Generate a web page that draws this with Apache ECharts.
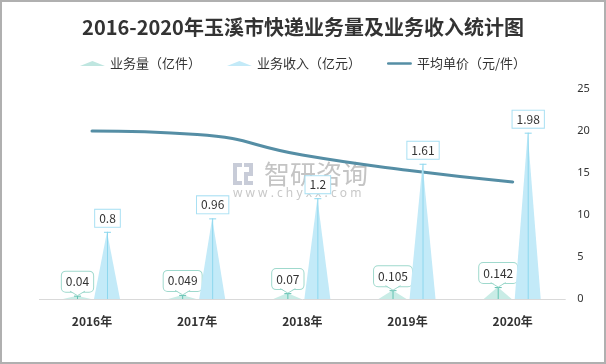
<!DOCTYPE html>
<html>
<head>
<meta charset="utf-8">
<script src="https://cdn.jsdelivr.net/npm/echarts@6/dist/echarts.min.js"></script>
<style>
html,body{margin:0;padding:0;background:#fff;}
#c{width:606px;height:364px;}
</style>
</head>
<body>
<div id="c"></div>
<script>
const years = ['2016年', '2017年', '2018年', '2019年', '2020年'];
const volume = [0.04, 0.049, 0.07, 0.105, 0.142];      // 业务量（亿件）
const revenue = [0.8, 0.96, 1.2, 1.61, 1.98];           // 业务收入（亿元）
const unitPrice = [20, 19.59, 17.14, 15.33, 13.94];     // 平均单价（元/件）
const rightTicks = [0, 5, 10, 15, 20, 25];

const FONT = '"Noto Sans CJK SC", "Noto Sans", sans-serif';
const VOL = { fill: '#c9ece6', line: '#62c2b2', border: '#9fd9cd', off: -15, w: 28 };
const REV = { fill: '#c3eaf8', line: '#8dd7ee', border: '#a9e0f3', off: 15, w: 26 };

function makeRender(cfg, isVol) {
  return function (params, api) {
    const idx = api.value(0);
    const v = api.value(1);
    const base = api.coord([idx, 0]);
    const top = api.coord([idx, v]);
    const cx = base[0] + cfg.off;
    const by = base[1];
    const ty = top[1];
    const children = [];
    children.push({
      type: 'polygon',
      shape: { points: [[cx - cfg.w / 2, by], [cx, ty], [cx + cfg.w / 2, by]] },
      style: { fill: cfg.fill }
    });
    children.push({
      type: 'line',
      shape: { x1: cx + 0.5, y1: ty, x2: cx + 0.5, y2: by },
      style: { stroke: cfg.line, lineWidth: 1 }
    });
    children.push({
      type: 'line',
      shape: { x1: cx - 3, y1: ty + 0.5, x2: cx + 4, y2: ty + 0.5 },
      style: { stroke: cfg.line, lineWidth: 1 }
    });
    const label = String(isVol ? volume[idx] : revenue[idx]);
    if (isVol) {
      const bb = ty - 4;
      children.push({
        type: 'text',
        x: cx + 0.5, y: bb,
        style: {
          text: label, align: 'center', verticalAlign: 'bottom',
          fontSize: 12, fontFamily: FONT, fill: '#333', lineHeight: 14,
          backgroundColor: '#fff', borderColor: cfg.border, borderWidth: 1,
          borderRadius: 4, padding: [3, 4]
        }
      });
      children.push({
        type: 'polygon',
        shape: { points: [[cx - 7, bb - 1.2], [cx + 0.5, ty], [cx + 8, bb - 1.2]] },
        style: { fill: '#fff' }
      });
      children.push({
        type: 'polyline',
        shape: { points: [[cx - 7, bb - 0.5], [cx + 0.5, ty], [cx + 8, bb - 0.5]] },
        style: { stroke: cfg.border, lineWidth: 1, fill: null }
      });
    } else {
      children.push({
        type: 'text',
        x: cx + 0.5, y: ty - 5,
        style: {
          text: label, align: 'center', verticalAlign: 'bottom',
          fontSize: 12, fontFamily: FONT, fill: '#333', lineHeight: 13,
          backgroundColor: '#fff', borderColor: cfg.border, borderWidth: 1,
          padding: [2, 4]
        }
      });
    }
    return { type: 'group', children: children };
  };
}

const chart = echarts.init(document.getElementById('c'), null, { renderer: 'canvas' });
chart.setOption({
  backgroundColor: '#fff',
  animation: false,
  title: {
    text: '2016-2020年玉溪市快递业务量及业务收入统计图',
    left: 'center', top: 12,
    textStyle: { fontSize: 20, fontWeight: 'bold', color: '#333', fontFamily: FONT }
  },
  legend: {
    top: 52, left: 'center',
    itemWidth: 25, itemHeight: 7, itemGap: 26,
    textStyle: { fontSize: 13, color: '#333', fontFamily: FONT },
    data: [
      { name: '业务量（亿件）', icon: 'path://M0,5 L12,0 L24,5 Z' },
      { name: '业务收入（亿元）', icon: 'path://M0,5 L12,0 L24,5 Z' },
      { name: '平均单价（元/件）', icon: 'path://M1.5,0 H26.5 A1.5,1.5 0 0 1 26.5,3 H1.5 A1.5,1.5 0 0 1 1.5,0 Z' }
    ]
  },
  grid: { left: 39.4, right: 40.7, top: 89, bottom: 65 },
  xAxis: {
    type: 'category', data: years,
    axisLine: { lineStyle: { color: '#d9d9d9' } },
    axisTick: { show: false },
    axisLabel: { fontSize: 12, fontWeight: 'bold', color: '#333', margin: 16, fontFamily: FONT }
  },
  yAxis: [
    { type: 'value', min: 0, max: 2.5, show: false },
    {
      type: 'value', position: 'right', min: rightTicks[0], max: rightTicks[rightTicks.length - 1], interval: 5,
      axisLine: { show: false }, axisTick: { show: false }, splitLine: { show: false },
      axisLabel: { fontSize: 11, color: '#333', margin: 12, fontFamily: '"Noto Sans", sans-serif' }
    }
  ],
  graphic: [
    { type: 'rect', shape: { x: 1, y: 1, width: 604, height: 362 }, style: { fill: 'none', stroke: '#b0b0b0', lineWidth: 2 }, z: 100 },
    { type: 'group', z: -1, children: [
      { type: 'rect', shape: { x: 233, y: 163, width: 9, height: 4 }, style: { fill: '#c8ccd8' } },
      { type: 'rect', shape: { x: 233, y: 163, width: 4, height: 22 }, style: { fill: '#c8ccd8' } },
      { type: 'rect', shape: { x: 233, y: 181, width: 9, height: 4 }, style: { fill: '#c8ccd8' } },
      { type: 'rect', shape: { x: 244, y: 163, width: 9, height: 4 }, style: { fill: '#c8ccd8' } },
      { type: 'rect', shape: { x: 249, y: 163, width: 4, height: 11 }, style: { fill: '#c8ccd8' } },
      { type: 'rect', shape: { x: 244, y: 172, width: 9, height: 4 }, style: { fill: '#c8ccd8' } },
      { type: 'rect', shape: { x: 244, y: 172, width: 4, height: 13 }, style: { fill: '#c8ccd8' } },
      { type: 'rect', shape: { x: 244, y: 181, width: 9, height: 4 }, style: { fill: '#c8ccd8' } },
      { type: 'text', x: 264, y: 174, style: { text: '智研咨询', fontSize: 26, fontFamily: FONT, fill: '#c4c4c4', verticalAlign: 'middle' } },
      { type: 'text', x: 233, y: 194, style: { text: 'w w w . c h y x x . c o m', fontSize: 12, fontFamily: '"Noto Sans", sans-serif', fill: '#c8c8c8', verticalAlign: 'middle' } }
    ] }
  ],
  series: [
    {
      name: '业务量（亿件）', type: 'custom', yAxisIndex: 0,
      itemStyle: { color: '#bfe6e0' },
      renderItem: makeRender(VOL, true),
      encode: { x: 0, y: 1 },
      data: volume.map((v, i) => [i, v]),
      z: 3
    },
    {
      name: '业务收入（亿元）', type: 'custom', yAxisIndex: 0,
      itemStyle: { color: '#c3eaf8' },
      renderItem: makeRender(REV, false),
      encode: { x: 0, y: 1 },
      data: revenue.map((v, i) => [i, v]),
      z: 3
    },
    {
      name: '平均单价（元/件）', type: 'line', yAxisIndex: 1,
      data: unitPrice, smooth: true, symbol: 'none',
      lineStyle: { width: 3, color: '#558ea5', cap: 'round' },
      itemStyle: { color: '#558ea5' },
      z: 2
    }
  ]
});
</script>
</body>
</html>
